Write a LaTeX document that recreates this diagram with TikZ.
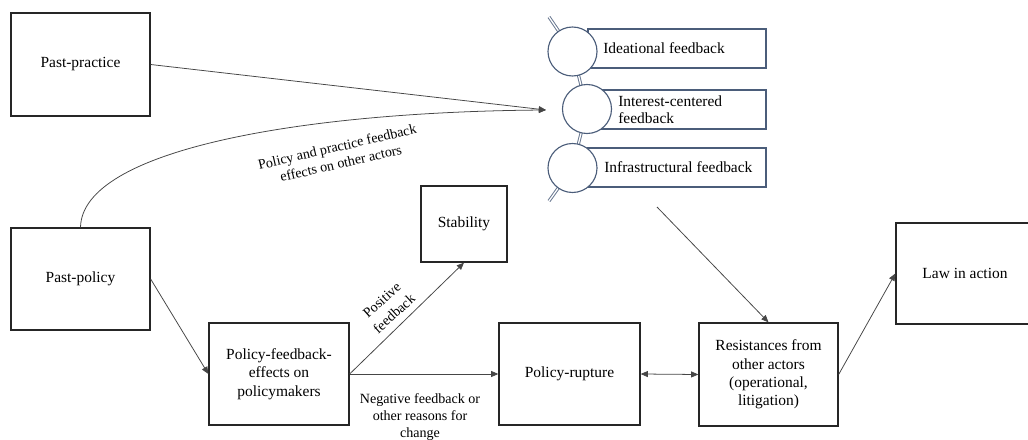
\documentclass[tikz,border=0pt]{standalone}
\usepackage{fontspec}
\setmainfont{LiberationSerif}[Extension=.ttf, UprightFont=*-Regular, BoldFont=*-Bold, ItalicFont=*-Italic, BoldItalicFont=*-BoldItalic]
\newfontfamily\tnr{LiberationSerif}[Extension=.ttf, UprightFont=*-Regular]
\usetikzlibrary{arrows.meta}
\definecolor{sa}{RGB}{75,93,122}
\definecolor{sadbl}{RGB}{105,120,145}
\definecolor{ln}{RGB}{70,70,70}
\tikzset{
  box/.style={draw=black!85, line width=0.9pt, align=center, font=\tnr\fontsize{11}{13}\selectfont, inner sep=2pt},
  conn/.style={draw=ln, line width=0.55pt, -{Triangle[length=0.18cm,width=0.15cm]}},
  bconn/.style={draw=ln, line width=0.55pt, {Triangle[length=0.18cm,width=0.15cm]}-{Triangle[length=0.18cm,width=0.15cm]}},
  lbl/.style={font=\tnr\fontsize{10}{12}\selectfont, align=center, inner sep=0pt},
  fbrect/.style={draw=sa, line width=0.8pt, fill=white, minimum height=0.975cm, inner sep=0pt},
  fbtext/.style={font=\tnr\fontsize{11}{12.5}\selectfont, align=left, anchor=west, inner sep=0pt},
  fbcirc/.style={draw=sa, line width=0.8pt, fill=white, circle, minimum size=1.225cm, inner sep=0pt},
  dbl/.style={draw=sadbl, line width=0.7pt, double=white, double distance=0.9pt}
}
\begin{document}
\begin{tikzpicture}[x=0.025cm,y=-0.025cm]
\useasboundingbox (0,0) rectangle (1028,440);
\clip (0,0) rectangle (1028,440);

% main boxes
\node[box, minimum width=3.475cm, minimum height=2.575cm] (pprac) at (80.5,64.5) {Past-practice};
\node[box, minimum width=3.475cm, minimum height=2.55cm] (ppol) at (80.5,279) {Past-policy};
\node[box, minimum width=2.15cm, minimum height=1.9cm] (stab) at (464,224) {Stability};
\node[box, minimum width=3.5cm, minimum height=2.55cm] (pfe) at (279,374) {Policy-feedback-\\effects on\\policymakers};
\node[box, minimum width=3.525cm, minimum height=2.55cm] (rup) at (569.5,374) {Policy-rupture};
\node[box, minimum width=3.475cm, minimum height=2.575cm] (res) at (768.5,374.5) {Resistances from\\other actors\\(operational,\\litigation)};
\node[box, minimum width=3.45cm, minimum height=2.525cm] (law) at (965,273.5) {Law in action};

% feedback list (SmartArt-like)
\coordinate (dtop) at (549,17);
\coordinate (dbot) at (549,201);
\node[fbrect, minimum width=4.45cm] (r1) at (677,48.5) {};
\node[fbrect, minimum width=4.15cm] (r2) at (683,109.5) {};
\node[fbrect, minimum width=4.45cm] (r3) at (677,167.5) {};
\node[fbtext] (t1) at (603,48.5) {Ideational feedback};
\node[fbtext] (t2) at (618,109.5) {Interest-centered\\feedback};
\node[fbtext] (t3) at (604,167.5) {Infrastructural feedback};
\coordinate (c1c) at (572.5,51.5);
\coordinate (c2c) at (587,109);
\coordinate (c3c) at (572.5,168);
\draw[dbl] (dtop) -- (c1c) -- (c2c) -- (c3c) -- (dbot);
\node[fbcirc] (c1) at (c1c) {};
\node[fbcirc] (c2) at (c2c) {};
\node[fbcirc] (c3) at (c3c) {};

% connectors
\coordinate (tip) at (546,110);
\draw[conn] (pprac.east) -- (tip);
\draw[conn] (ppol.north) .. controls (82,150) and (300,112) .. (tip);
\node[lbl, rotate=13] (lcurve) at (339,155) {Policy and practice feedback\\effects on other actors};

\draw[conn] (ppol.east) -- (pfe.west);
\draw[conn] (pfe.east) -- (stab.south);
\node[lbl, rotate=42, font=\tnr\fontsize{10}{13}\selectfont] (lpos) at (388,307) {Positive\\feedback};
\draw[conn] (pfe.east) -- (rup.west);
\node[lbl] (lneg) at (420,417) {Negative feedback or\\other reasons for\\change};
\draw[bconn] (rup.east) -- (res.west);
\draw[conn] (res.east) -- (law.west);
\coordinate (fbout) at (657,207);
\draw[conn] (fbout) -- (res.north);
\end{tikzpicture}
\end{document}
